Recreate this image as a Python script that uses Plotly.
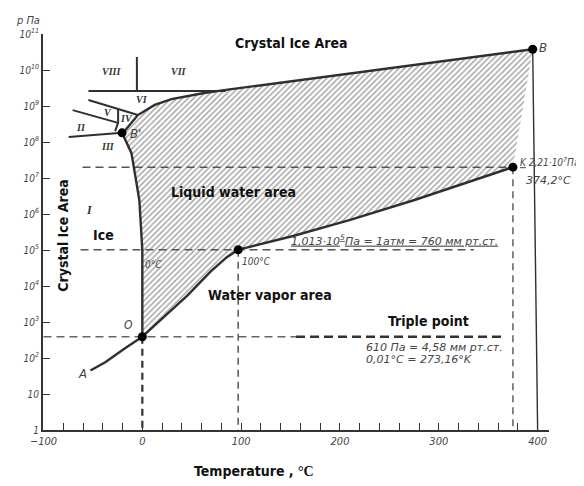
import plotly.graph_objects as go

# ---------------- data ----------------
# triple point O
triple_T = [0.01]
triple_p = [390]
# melting curve O -> B'
melt_T = [0.01, 0, 0, -3, -8, -11, -20.5]
melt_p = [390, 4.0e3, 1.0e5, 2.4e6, 1.66e7, 4.9e7, 1.8e8]
# curve from B' upward (liquid / high-pressure ice boundary)
upper_T = [-20.5, -17.5, -4.5, 12.5, 29.5, 49.5, 62.5, 84.5]
upper_p = [1.8e8, 2.1e8, 5.6e8, 1.07e9, 1.55e9, 2.0e9, 2.3e9, 2.8e9]
# point B
B_T = [395]
B_p = [3.76e10]
# critical point K
K_T = [375]
K_p = [2.0e7]
# boiling point at 1 atm
boil_T = [97]
boil_p = [1.013e5]
# vaporization curve O -> 100 C -> K
vap_T = [0.01, 19, 45.5, 69, 85.5, 97, 152.5, 209.5, 275.5, 375]
vap_p = [390, 1.15e3, 5.4e3, 2.5e4, 6.3e4, 1.013e5, 2.45e5, 6.8e5, 2.45e6, 2.0e7]
# sublimation curve A -> O
sub_T = [-52.5, -37.5, -17.5, 0.01]
sub_p = [45, 76, 186, 390]
# high-pressure ice boundaries
ice_h_T = [-54.5, 84.5];      ice_h_p = [2.6e9, 2.6e9]
ice_v_T = [-5.5, -5.5];       ice_v_p = [2.6e9, 2.3e10]
ice_v5_T = [-54.5, -4.5];     ice_v5_p = [1.47e9, 5.6e8]
ice_25_T = [-70.5, -24.5];    ice_25_p = [7.7e8, 3.4e8]
ice_23_T = [-74.5, -20.5];    ice_23_p = [1.38e8, 1.8e8]
ice_s_T = [-27.5, -24.5, -24.5]; ice_s_p = [2.0e8, 3.4e8, 8.3e8]
# B vertical boundary
Bv_T = [395, 400];  Bv_p = [3.76e10, 1]
# guide (dashed) lines
tp_light_T = [-100, 155.5];  tp_dark_T = [155.5, 364.5]
atm_T = [-62.5, 335.5]
Kh_T = [-60.5, 375]

x_tickvals = list(range(-100, 401, 20))
x_ticktext = ["\u2212100" if v == -100 else (str(v) if v % 100 == 0 else " ") for v in x_tickvals]
y_tickvals = [10 ** k for k in range(0, 12)]
y_ticktext = ["1", "10"] + ["10<sup>%d</sup>" % k for k in range(2, 12)]

LINE = "#2f2f2f"

fig = go.Figure()

# hatched liquid region
poly_T = melt_T + upper_T[1:] + B_T + K_T + vap_T[::-1][1:]
poly_p = melt_p + upper_p[1:] + B_p + K_p + vap_p[::-1][1:]
fig.add_trace(go.Scatter(x=poly_T, y=poly_p, mode="lines", fill="toself",
                         line=dict(width=0, color="rgba(0,0,0,0)"),
                         fillcolor="white",
                         fillpattern=dict(shape="/", size=4, solidity=0.36,
                                          fgcolor="#404040", bgcolor="white"),
                         hoverinfo="skip"))

def line(x, y, width=2.4, color=LINE, dash="solid"):
    fig.add_trace(go.Scatter(x=x, y=y, mode="lines",
                             line=dict(width=width, color=color, dash=dash),
                             hoverinfo="skip"))

# dashed guides
line(tp_light_T, triple_p * 2, 1.6, "#666", "8px,5px")
line(tp_dark_T, triple_p * 2, 2.4, "#333", "9px,5px")
line(atm_T, boil_p * 2, 1.5, "#555", "8px,5px")
line(Kh_T, K_p * 2, 1.5, "#555", "8px,5px")
line(triple_T * 2, [triple_p[0], 1], 2.2, "#333", "7px,5px")
line(boil_T * 2, [boil_p[0], 1], 1.5, "#555", "7px,5px")
line(K_T * 2, [K_p[0], 1], 1.4, "#555", "7px,5px")

# phase curves
line(melt_T, melt_p, 2.4)
line(upper_T, upper_p, 2.4)
line([upper_T[-1], B_T[0]], [upper_p[-1], B_p[0]], 2.4)
line(vap_T, vap_p, 2.4)
line(sub_T, sub_p, 2.4)
line(Bv_T, Bv_p, 1.4)
for xx, yy in [(ice_h_T, ice_h_p), (ice_v_T, ice_v_p), (ice_v5_T, ice_v5_p),
               (ice_25_T, ice_25_p), (ice_23_T, ice_23_p), (ice_s_T, ice_s_p)]:
    line(xx, yy, 2.0)

# marked points
fig.add_trace(go.Scatter(x=triple_T + boil_T + K_T + B_T + [melt_T[-1]],
                         y=triple_p + boil_p + K_p + B_p + [melt_p[-1]],
                         mode="markers", marker=dict(size=9, color="black"),
                         hoverinfo="skip", cliponaxis=False))

# ---------------- annotations ----------------
# the page body has an 8px margin, so the figure is shifted by 8px
OFF = 8
L, T0, W, H = 29, 26, 512, 396
FIG_W, FIG_H = 576, 478

def P(x, y):
    return (x - OFF - L) / W, (OFF + T0 + H - y) / H

BOLD = dict(family="Liberation Sans Narrow, DejaVu Sans Condensed, Arial Narrow, sans-serif",
            size=14, color="#111", weight="bold")
ITAL = dict(family="DejaVu Sans Condensed, Liberation Sans Narrow, sans-serif",
            size=10, color="#444", style="italic")
ITAL_W = dict(family="DejaVu Sans, sans-serif", size=11, color="#444", style="italic")
ROMAN = dict(family="Liberation Serif, serif", size=10, color="#333",
             style="italic", weight="bold")

notes = [
    ("Crystal Ice Area", 288, 43, BOLD, 0, "center"),
    ("Crystal Ice Area", 57, 236, BOLD, -90, "center"),
    ("Ice", 98, 235, BOLD, 0, "center"),
    ("Liquid water area", 230, 192, BOLD, 0, "center"),
    ("Water vapor area", 267, 295, BOLD, 0, "center"),
    ("Triple point", 427, 321, BOLD, 0, "center"),
    ("<u>1,013\u00b710<sup>5</sup>\u041f\u0430 = 1\u0430\u0442\u043c = 760 \u043c\u043c \u0440\u0442.\u0441\u0442.</u>", 286, 240, ITAL_W, 0, "left"),
    ("610 \u041f\u0430 = 4,58 \u043c\u043c \u0440\u0442.\u0441\u0442.", 362, 347, ITAL_W, 0, "left"),
    ("0,01\u00b0C = 273,16\u00b0K", 362, 359, ITAL_W, 0, "left"),
    ("100\u00b0C", 253, 262, ITAL, 0, "center"),
    ("0\u00b0C", 149, 264, ITAL, 0, "center"),
    ("O", 124, 325, dict(ITAL, size=12), 0, "center"),
    ("A", 77, 373, dict(ITAL, size=13), 0, "center"),
    ("B'", 131, 134, dict(ITAL, size=13), 0, "center"),
    ("B", 543, 47, dict(ITAL, size=13), 0, "center"),
    ("374,2\u00b0C", 548, 180, ITAL_W, 0, "center"),
    ("p \u041f\u0430", 22, 20, dict(ITAL, size=11), 0, "center"),
    ("VIII", 106, 72, ROMAN, 0, "center"),
    ("VII", 175, 71, ROMAN, 0, "center"),
    ("VI", 137, 99, ROMAN, 0, "center"),
    ("V", 103, 112, ROMAN, 0, "center"),
    ("IV", 121, 118, ROMAN, 0, "center"),
    ("II", 75, 127, ROMAN, 0, "center"),
    ("III", 103, 146, ROMAN, 0, "center"),
    ("I", 84, 210, dict(ROMAN, size=12), 0, "center"),
]
anns = []
for text, x, y, font, ang, xa in notes:
    px_, py_ = P(x, y)
    anns.append(dict(text=text, x=px_, y=py_, xref="paper", yref="paper",
                     showarrow=False, font=font, textangle=ang,
                     xanchor=xa, yanchor="middle"))
# K label (left anchored, runs to the edge)
kx, ky = P(518, 162)
anns.append(dict(text="<u>K</u> 2,21\u00b710<sup>7</sup>\u041f\u0430", x=kx, y=ky,
                 xref="paper", yref="paper", showarrow=False, font=ITAL,
                 xanchor="left", yanchor="middle"))
tx, ty = P(250, 471)
anns.append(dict(text="<b>Temperature</b> , <span style='font-family:Liberation Serif'>\u00b0C</span>",
                 x=tx, y=ty, xref="paper", yref="paper", showarrow=False,
                 font=dict(BOLD, size=14), xanchor="center", yanchor="middle"))

fig.update_layout(
    width=FIG_W, height=FIG_H,
    margin=dict(l=L, r=FIG_W - L - W, t=T0, b=FIG_H - T0 - H, pad=0),
    paper_bgcolor="white", plot_bgcolor="white",
    showlegend=False,
    annotations=anns,
    xaxis=dict(range=[-100.5, 411.5], tickmode="array", tickvals=x_tickvals,
               ticktext=x_ticktext, ticks="inside", ticklen=7, tickwidth=1.4,
               tickcolor="#333", showline=True, linecolor="#333", linewidth=2,
               showgrid=False, zeroline=False,
               tickfont=dict(family="DejaVu Sans Condensed, sans-serif", size=11,
                             color="#444", style="italic")),
    yaxis=dict(type="log", range=[0, 11], tickmode="array", tickvals=y_tickvals,
               ticktext=y_ticktext, ticks="inside", ticklen=7, tickwidth=1.4,
               tickcolor="#333", showline=True, linecolor="#333", linewidth=2,
               showgrid=False, zeroline=False,
               tickfont=dict(family="DejaVu Sans Condensed, sans-serif", size=10,
                             color="#444", style="italic")),
)

fig.write_html("out.html")
